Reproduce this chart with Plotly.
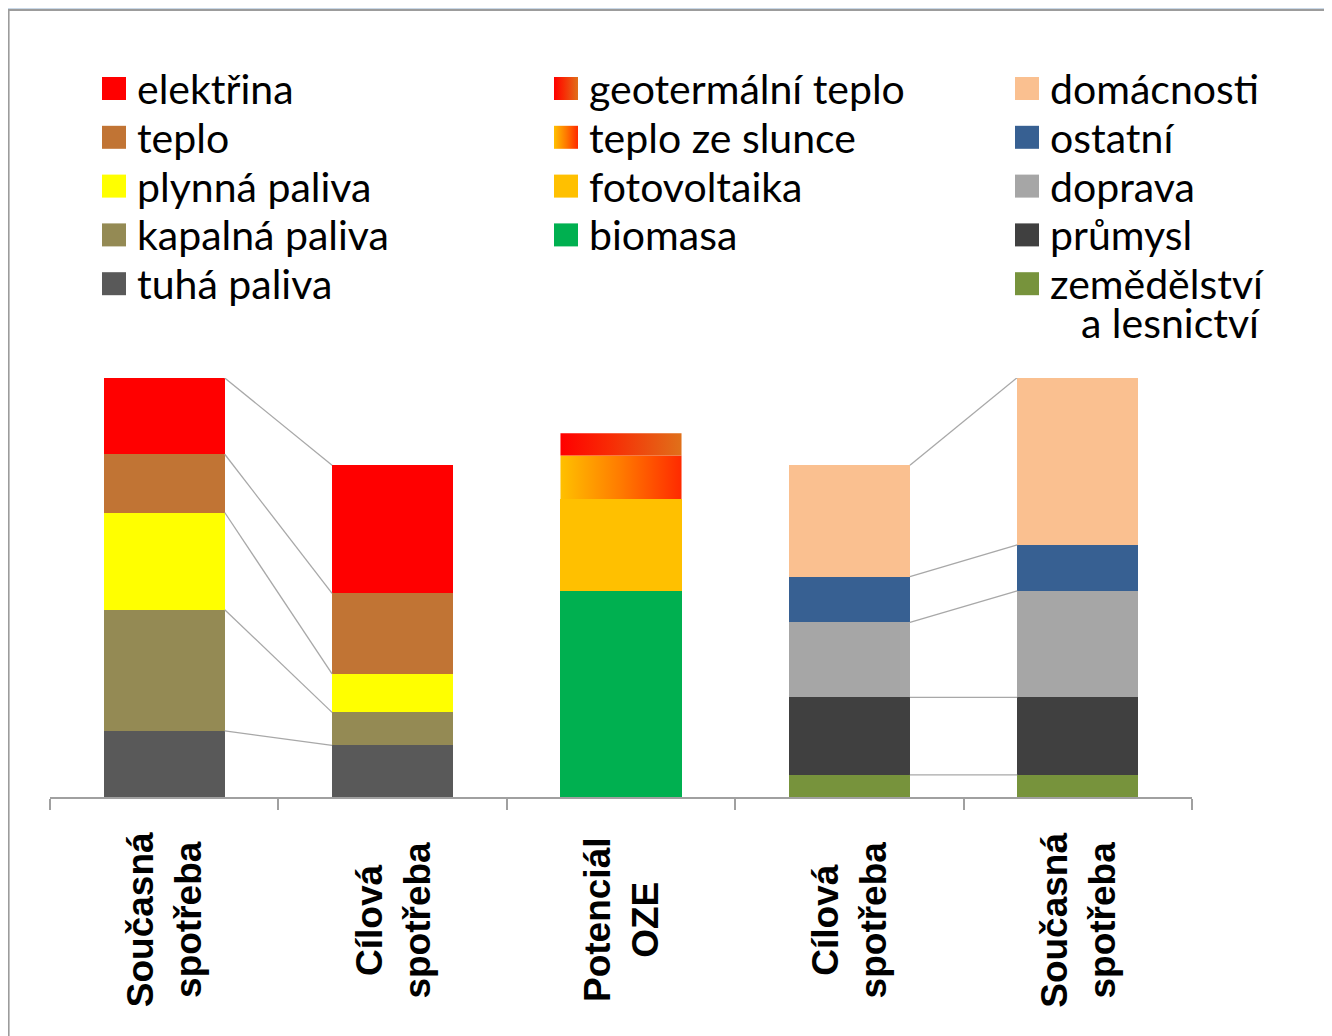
import plotly.graph_objects as go

# the page puts the figure 8px in from the window corner
OFF = 8
W, H = 1332 - OFF, 1036 - OFF

# categories (left -> right)
categories = ["Současná<br>spotřeba", "Cílová<br>spotřeba", "Potenciál<br>OZE",
              "Cílová<br>spotřeba", "Současná<br>spotřeba"]

# supply side, stacked bottom -> top (bars 0 and 1)
supply_names = ["tuhá paliva", "kapalná paliva", "plynná paliva", "teplo", "elektřina"]
supply_current = [15.8, 28.9, 23.2, 13.9, 18.2]
supply_target = [12.3, 7.9, 9.2, 19.2, 30.6]

# renewable potential, bottom -> top (bar 2)
oze_names = ["biomasa", "fotovoltaika", "teplo ze slunce", "geotermální teplo"]
oze_potential = [49.2, 21.9, 10.4, 5.3]

# demand side, bottom -> top (bars 3 and 4)
demand_names = ["zemědělství a lesnictví", "průmysl", "doprava", "ostatní", "domácnosti"]
demand_target = [5.3, 18.5, 17.9, 10.9, 26.6]
demand_current = [5.3, 18.5, 25.4, 11.0, 39.9]

colors = {
    "elektřina": "#FF0000",
    "teplo": "#C17434",
    "plynná paliva": "#FFFF00",
    "kapalná paliva": "#948A54",
    "tuhá paliva": "#595959",
    "biomasa": "#00B050",
    "fotovoltaika": "#FFC000",
    "domácnosti": "#FAC090",
    "ostatní": "#376092",
    "doprava": "#A6A6A6",
    "průmysl": "#404040",
    "zemědělství a lesnictví": "#77933C",
}
gradients = {
    "geotermální teplo": [[0, "#FF0000"], [0.4, "#F82A04"], [1, "#E0701A"]],
    "teplo ze slunce": [[0, "#FFC000"], [0.5, "#FF7A00"], [1, "#FF2A00"]],
}

legend_cols = [
    ["elektřina", "teplo", "plynná paliva", "kapalná paliva", "tuhá paliva"],
    ["geotermální teplo", "teplo ze slunce", "fotovoltaika", "biomasa"],
    ["domácnosti", "ostatní", "doprava", "průmysl", "zemědělství a lesnictví"],
]

BW = 0.53
LINE_GREY = "#A8A8A8"
LEG_FONT = dict(family="Lato", size=41, color="#000000")


def cumsum(vals):
    out, s = [], 0
    for v in vals:
        s += v
        out.append(s)
    return out


fig = go.Figure()

# stacked bars
for k, name in enumerate(supply_names):
    fig.add_bar(x=[0, 1], y=[supply_current[k], supply_target[k]], width=BW,
                marker=dict(color=colors[name], line_width=0), name=name)
for k, name in enumerate(oze_names[:2]):
    fig.add_bar(x=[2], y=[oze_potential[k]], width=BW,
                marker=dict(color=colors[name], line_width=0), name=name)
for k, name in enumerate(demand_names):
    fig.add_bar(x=[3, 4], y=[demand_target[k], demand_current[k]], width=BW,
                marker=dict(color=colors[name], line_width=0), name=name)

# gradient segments on top of the OZE bar
base = sum(oze_potential[:2])
for name, val in zip(oze_names[2:], oze_potential[2:]):
    x0, x1 = 2 - BW / 2, 2 + BW / 2
    fig.add_scatter(x=[x0, x1, x1, x0, x0], y=[base, base, base + val, base + val, base],
                    mode="lines", line_width=0, fill="toself",
                    fillgradient=dict(type="horizontal", colorscale=gradients[name]),
                    name=name, hoverinfo="skip")
    base += val

# series lines between neighbouring bars
for i, a, j, b in [(0, supply_current, 1, supply_target), (3, demand_target, 4, demand_current)]:
    xs, ys = [], []
    for ya, yb in zip(cumsum(a), cumsum(b)):
        xs += [i + BW / 2, j - BW / 2, None]
        ys += [ya, yb, None]
    fig.add_scatter(x=xs, y=ys, mode="lines", line=dict(color=LINE_GREY, width=1.3),
                    hoverinfo="skip")

# legend drawn in a pixel overlay axis (window pixel coordinates)
ROW0, ROWH = 88.5, 48.8
col_x = [102, 554, 1015]
annotations = []
for c, names in enumerate(legend_cols):
    for r, name in enumerate(names):
        yc = ROW0 + r * ROWH
        sx0, sx1 = col_x[c], col_x[c] + 24
        sy0, sy1 = yc - 11.5, yc + 11.5
        sq = dict(x=[sx0, sx1, sx1, sx0, sx0], y=[sy0, sy0, sy1, sy1, sy0],
                  mode="lines", line_width=0, fill="toself", xaxis="x2", yaxis="y2",
                  hoverinfo="skip")
        if name in gradients:
            sq["fillgradient"] = dict(type="horizontal", colorscale=gradients[name])
        else:
            sq["fillcolor"] = colors[name]
        fig.add_scatter(**sq)
        label = "zemědělství" if name == "zemědělství a lesnictví" else name
        annotations.append(dict(x=col_x[c] + 33, y=yc, xref="x2", yref="y2", text=label,
                                showarrow=False, xanchor="left", yanchor="middle",
                                font=LEG_FONT))
annotations.append(dict(x=1262, y=ROW0 + 4 * ROWH + 39, xref="x2", yref="y2",
                        text="a lesnictví", showarrow=False, xanchor="right",
                        yanchor="middle", font=LEG_FONT))

# category labels, rotated
for i, cat in enumerate(categories):
    annotations.append(dict(x=i, y=920, xref="x", yref="y2", text=cat, showarrow=False,
                            textangle=-90, align="center", xanchor="center", yanchor="middle",
                            font=dict(family="Liberation Sans", size=37, color="#000000",
                                      weight="bold")))

fig.update_layout(
    width=W, height=H,
    margin=dict(l=0, r=0, t=0, b=0),
    barmode="stack", bargap=0,
    showlegend=False,
    paper_bgcolor="#C9D8E7",
    plot_bgcolor="rgba(0,0,0,0)",
    xaxis=dict(domain=[(50 - OFF) / W, (1192 - OFF) / W], range=[-0.5, 4.5],
               showgrid=False, zeroline=False,
               showline=True, linecolor="#A0A0A0", linewidth=1.5,
               tickmode="array", tickvals=[-0.5, 0.5, 1.5, 2.5, 3.5, 4.5],
               ticks="outside", ticklen=11, tickwidth=1.5, tickcolor="#A0A0A0",
               showticklabels=False, fixedrange=True),
    yaxis=dict(domain=[(1036 - 797) / H, (1036 - 378) / H], range=[0, 100], visible=False,
               fixedrange=True),
    xaxis2=dict(domain=[0, 1], range=[OFF, OFF + W], visible=False, anchor="y2"),
    yaxis2=dict(domain=[0, 1], range=[OFF + H, OFF], visible=False, anchor="x2"),
    shapes=[dict(type="rect", xref="paper", yref="paper", x0=0.6 / W, x1=1.02, y0=-0.02,
                 y1=1 - (10 - OFF) / H, fillcolor="white", line=dict(color="#9C9C9C", width=2),
                 layer="below")],
    annotations=annotations,
)

fig.write_html("out.html")
